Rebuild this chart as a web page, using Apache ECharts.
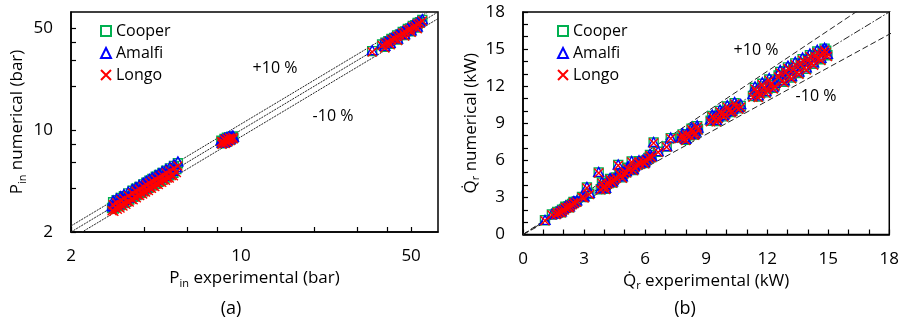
<!DOCTYPE html>
<html>
<head>
<meta charset="utf-8">
<script src="https://cdn.jsdelivr.net/npm/echarts@6/dist/echarts.min.js"></script>
<style>
  html, body { margin: 0; padding: 0; background: #fff; }
  #chart { width: 902px; height: 326px; }
</style>
</head>
<body>
<div id="chart"></div>
<script>
// ---- (a) inlet pressure, bar: experimental vs. predicted by each correlation ----
const pExp = [
  2.95, 3.00, 3.05, 3.10, 3.14, 3.18, 3.22, 3.27, 3.31, 3.36, 3.41, 3.47,
  3.55, 3.60, 3.66, 3.71, 3.77, 3.83, 3.88, 3.94, 3.99, 4.05, 4.10, 4.16, 4.22, 4.28,
  4.35, 4.42, 4.50, 4.57, 4.64, 4.72, 4.80, 4.89, 4.98, 5.07, 5.17, 5.27, 5.42,
  2.98, 3.08, 3.20, 3.30, 3.44, 3.58, 3.70, 3.82, 3.96, 4.08, 4.20, 4.32, 4.46, 4.60, 4.75, 4.92, 5.10, 5.30, 5.50,
  8.30, 8.42, 8.55, 8.65, 8.75, 8.86, 8.97, 9.10, 9.25,
  8.35, 8.60, 8.80, 9.05, 9.30,
  34.6, 38.0, 39.2, 40.3, 41.5, 42.6, 43.8, 45.0, 46.2, 47.3, 48.5, 49.6, 50.8, 52.0, 53.2, 54.4, 55.6,
  39.0, 41.0, 44.0, 47.0, 50.0, 53.0
];
const pCooper = [
  2.92, 2.90, 3.02, 3.00, 3.10, 3.05, 3.18, 3.16, 3.28, 3.22, 3.36, 3.34,
  3.50, 3.48, 3.62, 3.58, 3.72, 3.70, 3.84, 3.80, 3.94, 3.92, 4.06, 4.02, 4.18, 4.16,
  4.30, 4.28, 4.45, 4.42, 4.60, 4.56, 4.75, 4.72, 4.92, 4.90, 5.10, 5.10, 5.40,
  3.20, 3.30, 3.42, 3.52, 3.68, 3.84, 3.96, 4.08, 4.24, 4.36, 4.50, 4.62, 4.78, 4.92, 5.08, 5.26, 5.46, 5.68, 5.92,
  8.45, 8.40, 8.70, 8.55, 8.85, 8.70, 8.95, 8.90, 9.05,
  8.10, 8.20, 8.40, 8.60, 8.85,
  34.8, 38.6, 39.8, 40.6, 42.2, 42.9, 44.6, 45.2, 47.0, 47.5, 49.4, 49.8, 51.8, 52.3, 54.2, 54.8, 56.8,
  37.2, 39.0, 41.8, 44.8, 47.6, 50.4
];
const pAmalfi = [
  3.01, 2.99, 3.11, 3.09, 3.19, 3.14, 3.28, 3.25, 3.38, 3.32, 3.46, 3.44,
  3.61, 3.58, 3.73, 3.69, 3.83, 3.81, 3.96, 3.91, 4.06, 4.04, 4.18, 4.14, 4.31, 4.28,
  4.43, 4.41, 4.58, 4.55, 4.74, 4.70, 4.89, 4.86, 5.07, 5.05, 5.25, 5.25, 5.56,
  3.29, 3.40, 3.52, 3.63, 3.79, 3.94, 4.07, 4.20, 4.36, 4.49, 4.62, 4.75, 4.91, 5.06, 5.23, 5.41, 5.61, 5.83, 6.10,
  8.58, 8.53, 8.83, 8.68, 8.98, 8.83, 9.08, 9.03, 9.19,
  8.22, 8.32, 8.52, 8.73, 8.98,
  35.3, 39.2, 40.4, 41.2, 42.8, 43.5, 45.3, 45.9, 47.7, 48.2, 50.1, 50.5, 52.6, 53.1, 55.0, 55.6, 57.6,
  37.8, 39.6, 42.4, 45.5, 48.3, 51.2
];
const pLongo = [
  2.80, 2.78, 2.92, 2.86, 2.98, 2.92, 3.06, 3.02, 3.15, 3.10, 3.22, 3.21,
  3.36, 3.33, 3.48, 3.43, 3.57, 3.56, 3.68, 3.65, 3.78, 3.76, 3.90, 3.85, 4.01, 3.99,
  4.13, 4.10, 4.27, 4.24, 4.40, 4.38, 4.55, 4.52, 4.70, 4.70, 4.88, 4.86, 5.12,
  3.07, 3.17, 3.30, 3.40, 3.54, 3.69, 3.81, 3.93, 4.08, 4.20, 4.33, 4.45, 4.59, 4.74, 4.89, 5.07, 5.25, 5.46, 5.66,
  8.32, 8.27, 8.57, 8.42, 8.72, 8.57, 8.82, 8.77, 8.91,
  7.98, 8.08, 8.28, 8.48, 8.72,
  34.3, 38.0, 39.2, 40.0, 41.6, 42.3, 43.9, 44.5, 46.3, 46.8, 48.7, 49.1, 51.0, 51.5, 53.4, 54.0, 55.9,
  36.6, 38.4, 41.2, 44.1, 46.9, 49.6
];
const pRange = [2, 64.5];
const pTickLabels = [2, 10, 50];
const pTicks = [2, 4, 6, 8, 10, 20, 30, 40, 50];

// ---- (b) refrigeration capacity, kW ----
const qExp = [
  1.08, 1.42, 1.62, 1.72, 1.82, 1.92, 2.02, 2.12, 2.22, 2.32, 2.42, 2.52, 2.64, 2.90, 3.00, 3.14, 3.26,
  3.72, 3.82, 3.92, 4.02, 4.12, 4.22, 4.34, 4.46, 4.58, 4.68, 4.80, 4.94, 5.08, 5.22, 5.34,
  5.48, 5.62, 5.76, 5.90, 6.04, 6.18, 6.32, 6.42, 6.64, 7.06, 7.26,
  7.78, 7.92, 8.06, 8.20, 8.34, 8.48, 8.60,
  9.22, 9.40, 9.58, 9.76, 9.94, 10.12, 10.30, 10.48, 10.70,
  11.30, 11.48, 11.66, 11.84, 12.02, 12.20, 12.38,
  12.56, 12.74, 12.92, 13.10, 13.28, 13.46, 13.64, 13.82, 14.00, 14.18, 14.36, 14.54, 14.72, 14.90,
  1.68, 1.88, 2.08, 2.28, 2.48,
  3.88, 4.06, 4.28, 4.40, 4.74, 4.88, 5.14, 5.42, 5.70, 5.98, 6.24,
  7.84, 8.00, 8.28, 8.42, 8.56,
  9.30, 9.50, 9.68, 9.86, 10.04, 10.22, 10.40, 10.60,
  11.40, 11.56, 11.76, 11.94, 12.10, 12.30,
  12.64, 12.84, 13.02, 13.20, 13.38, 13.56, 13.74, 13.92, 14.10, 14.28, 14.46, 14.64, 14.82, 14.96
];
const qCooper = [
  1.15, 1.62, 1.68, 1.80, 1.86, 2.00, 2.06, 2.20, 2.26, 2.40, 2.48, 2.60, 2.68, 3.04, 3.02, 3.80, 3.30,
  5.02, 3.66, 3.86, 3.92, 4.10, 4.16, 4.36, 4.42, 4.62, 5.62, 4.76, 4.96, 5.04, 5.26, 5.90,
  5.46, 5.66, 5.72, 5.94, 6.00, 6.20, 6.26, 7.44, 6.70, 7.12, 7.80,
  7.84, 7.80, 8.12, 8.02, 8.40, 8.22, 8.52,
  9.20, 9.46, 9.44, 9.80, 9.78, 10.10, 10.04, 10.36, 10.40,
  11.20, 11.60, 11.46, 11.98, 11.80, 12.30, 12.10,
  12.86, 12.52, 13.22, 12.86, 13.46, 13.20, 13.86, 13.58, 14.18, 13.96, 14.50, 14.34, 14.80, 14.86,
  1.82, 1.80, 2.24, 2.20, 2.64,
  4.20, 3.70, 4.50, 4.20, 4.96, 4.62, 5.40, 5.22, 5.92, 5.78, 6.44,
  8.10, 7.66, 8.56, 8.08, 8.76,
  9.60, 9.18, 10.00, 9.56, 10.36, 9.90, 10.62, 10.20,
  11.86, 11.16, 12.20, 11.50, 12.54, 11.86,
  13.16, 12.36, 13.52, 12.70, 13.84, 13.06, 14.18, 13.40, 14.50, 13.80, 14.80, 14.18, 15.04, 14.50
];
const qAmalfi = [
  1.18, 1.66, 1.74, 1.88, 1.94, 2.08, 2.15, 2.28, 2.35, 2.48, 2.56, 2.68, 2.76, 3.10, 3.08, 3.85, 3.38,
  5.06, 3.74, 3.95, 4.02, 4.20, 4.26, 4.46, 4.52, 4.72, 5.66, 4.86, 5.06, 5.14, 5.36, 5.94,
  5.56, 5.76, 5.82, 6.04, 6.10, 6.30, 6.36, 7.48, 6.74, 7.16, 7.84,
  7.92, 7.88, 8.20, 8.12, 8.50, 8.34, 8.64,
  9.32, 9.58, 9.56, 9.92, 9.90, 10.22, 10.18, 10.50, 10.56,
  11.36, 11.74, 11.62, 12.12, 11.96, 12.46, 12.26,
  13.02, 12.68, 13.38, 13.02, 13.62, 13.36, 14.02, 13.74, 14.34, 14.12, 14.66, 14.50, 14.94, 15.00,
  1.88, 1.88, 2.30, 2.28, 2.70,
  4.28, 3.78, 4.58, 4.30, 5.04, 4.70, 5.48, 5.30, 6.00, 5.86, 6.52,
  8.20, 7.74, 8.66, 8.16, 8.84,
  9.70, 9.28, 10.10, 9.66, 10.46, 10.00, 10.72, 10.30,
  11.98, 11.26, 12.32, 11.60, 12.66, 11.96,
  13.30, 12.48, 13.66, 12.82, 13.98, 13.18, 14.32, 13.52, 14.64, 13.92, 14.94, 14.30, 15.10, 14.62
];
const qLongo = [
  1.12, 1.58, 1.60, 1.72, 1.80, 1.92, 1.98, 2.12, 2.18, 2.30, 2.40, 2.50, 2.60, 3.00, 2.96, 3.76, 3.24,
  4.98, 3.62, 3.80, 3.88, 4.04, 4.12, 4.30, 4.38, 4.56, 5.58, 4.72, 4.90, 5.00, 5.20, 5.86,
  5.42, 5.60, 5.68, 5.88, 5.96, 6.14, 6.22, 7.40, 6.66, 7.08, 7.76,
  7.78, 7.74, 8.04, 7.98, 8.32, 8.18, 8.46,
  9.12, 9.38, 9.36, 9.72, 9.70, 10.02, 9.96, 10.28, 10.30,
  11.10, 11.50, 11.36, 11.88, 11.70, 12.18, 12.00,
  12.74, 12.40, 13.10, 12.74, 13.34, 13.08, 13.74, 13.46, 14.06, 13.84, 14.38, 14.22, 14.68, 14.72,
  1.76, 1.76, 2.18, 2.16, 2.58,
  4.14, 3.64, 4.44, 4.16, 4.90, 4.56, 5.34, 5.18, 5.86, 5.72, 6.38,
  8.04, 7.60, 8.50, 8.02, 8.70,
  9.52, 9.12, 9.94, 9.50, 10.30, 9.84, 10.56, 10.14,
  11.78, 11.08, 12.12, 11.42, 12.46, 11.78,
  13.06, 12.28, 13.42, 12.60, 13.74, 12.96, 14.08, 13.30, 14.40, 13.70, 14.70, 14.08, 14.90, 14.40
];
const qRange = [0, 18];

// deviation bands: +10 %, parity line, -10 %
const bandFactors = [1.1, 1.0, 0.9];
const modelNames = ['Cooper', 'Amalfi', 'Longo'];

const FONT = 'Open Sans';
const GREEN = '#00B050', BLUE = '#0000FF', RED = '#FF0000';
const CROSS = 'path://M0,0L10,10M10,0L0,10';

const markerStyles = {
  Cooper: { symbol: 'rect', symbolSize: 9, color: GREEN },
  Amalfi: { symbol: 'triangle', symbolSize: [10, 9], color: BLUE },
  Longo:  { symbol: CROSS, symbolSize: 9, color: RED }
};

function pairs(xs, ys) { return xs.map((x, i) => [x, ys[i]]); }

function scatter(name, xs, ys, idx) {
  const m = markerStyles[name];
  return {
    name, type: 'scatter', xAxisIndex: idx, yAxisIndex: idx,
    symbol: m.symbol, symbolSize: m.symbolSize,
    itemStyle: { color: 'rgba(0,0,0,0)', borderColor: m.color, borderWidth: 1.4, opacity: 1 },
    emphasis: { disabled: true },
    data: pairs(xs, ys), z: 3
  };
}

function bandLines(range, idx, styles) {
  return bandFactors.map((k, i) => ({
    type: 'line', xAxisIndex: idx, yAxisIndex: idx, symbol: 'none', silent: true,
    lineStyle: { color: '#222', width: 1, type: styles[i] },
    data: [[range[0], range[0] * k], [range[1] * 1.2, range[1] * 1.2 * k]],
    z: 2, clip: true
  }));
}

const richTitle = {
  n: { fontFamily: FONT, fontSize: 17, color: '#000', lineHeight: 20, verticalAlign: 'top' },
  s: { fontFamily: FONT, fontSize: 11, color: '#000', lineHeight: 11, verticalAlign: 'top', padding: [8, 0, 0, 0] }
};
const tickFont = { fontFamily: FONT, fontSize: 17, color: '#000' };
const axisLineStyle = { show: true, lineStyle: { color: '#000', width: 1.5 } };

function logAxis(name, gap) {
  return {
    type: 'log', logBase: 10, min: pRange[0], max: pRange[1],
    name, nameLocation: 'middle', nameGap: gap,
    nameTextStyle: { rich: richTitle },
    axisLine: axisLineStyle,
    axisTick: { show: true, inside: true, length: 5, lineStyle: { color: '#000', width: 1.2 }, customValues: pTicks },
    axisLabel: { ...tickFont, margin: 16, customValues: pTickLabels, formatter: v => String(Math.round(v)) },
    splitLine: { show: false }, minorTick: { show: false }
  };
}

function linAxis(name, gap) {
  return {
    type: 'value', min: qRange[0], max: qRange[1], interval: 3,
    name, nameLocation: 'middle', nameGap: gap,
    nameTextStyle: { rich: richTitle },
    axisLine: axisLineStyle,
    axisTick: { show: true, inside: true, length: 5, lineStyle: { color: '#000', width: 1.2 } },
    minorTick: { show: true, splitNumber: 3, length: 5, lineStyle: { color: '#000', width: 1.2 } },
    axisLabel: { ...tickFont, margin: 16 },
    splitLine: { show: false }
  };
}

function legendAt(left, top) {
  return {
    orient: 'vertical', left, top, data: modelNames, padding: 0,
    itemWidth: 10, itemHeight: 10, itemGap: 4,
    textStyle: { fontFamily: FONT, fontSize: 16, color: '#000', lineHeight: 18 },
    selectedMode: false
  };
}

function note(text, x, y, size) {
  return {
    type: 'text', x, y, silent: true,
    style: { text, fontFamily: FONT, fontSize: size || 16, fill: '#000', align: 'center', verticalAlign: 'middle' }
  };
}

const QDOT = 'Q\u0307';

const option = {
  animation: false,
  backgroundColor: '#fff',
  grid: [
    { left: 71, top: 12, width: 367, height: 220, show: true, borderColor: '#000', borderWidth: 1.5, backgroundColor: 'transparent' },
    { left: 523, top: 12, width: 369, height: 222.5, show: true, borderColor: '#000', borderWidth: 1.5, backgroundColor: 'transparent' }
  ],
  xAxis: [
    { ...logAxis('{n|P}{s|in}{n| experimental (bar)}', 37), gridIndex: 0 },
    { ...linAxis('{n|' + QDOT + '}{s|r}{n| experimental (kW)}', 37), gridIndex: 1 }
  ],
  yAxis: [
    { ...logAxis('{n|P}{s|in}{n| numerical (bar)}', 42), gridIndex: 0, axisLabel: { ...tickFont, margin: 18, customValues: pTickLabels, formatter: v => String(Math.round(v)) } },
    { ...linAxis('{n|' + QDOT + '}{s|r}{n| numerical (kW)}', 36), gridIndex: 1, axisLabel: { ...tickFont, margin: 18 } }
  ],
  legend: [legendAt(100, 22), legendAt(557, 22)],
  graphic: [
    note('+10 %', 275, 68), note('-10 %', 333, 116),
    note('+10 %', 756, 50), note('-10 %', 816, 96),
    note('(a)', 231, 309, 18), note('(b)', 685, 309, 18)
  ],
  series: [
    ...bandLines(pRange, 0, [[2, 1], [2, 1], [2, 1]]),
    ...bandLines(qRange, 1, [[6, 3], [7, 2, 1.5, 2], [6, 3]]),
    scatter('Cooper', pExp, pCooper, 0),
    scatter('Amalfi', pExp, pAmalfi, 0),
    scatter('Longo', pExp, pLongo, 0),
    scatter('Cooper', qExp, qCooper, 1),
    scatter('Amalfi', qExp, qAmalfi, 1),
    scatter('Longo', qExp, qLongo, 1)
  ]
};

const chart = echarts.init(document.getElementById('chart'), null, { renderer: 'canvas' });
chart.setOption(option);
</script>
</body>
</html>
